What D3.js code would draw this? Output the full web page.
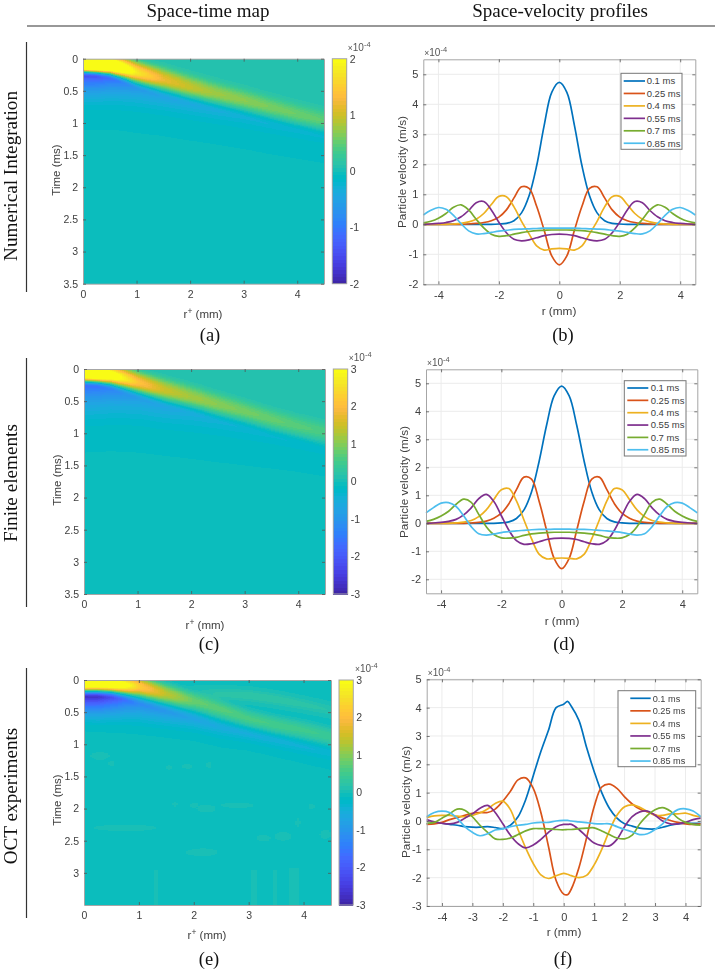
<!DOCTYPE html>
<html><head><meta charset="utf-8">
<script src="https://cdnjs.cloudflare.com/ajax/libs/d3/7.8.5/d3.min.js"></script>
<style>
html,body{margin:0;padding:0;background:#fff}
svg{display:block;filter:blur(0.45px)}
text{font-family:"Liberation Sans",Arial,sans-serif;fill:#404040}
.serif{font-family:"Liberation Serif","Times New Roman",serif;fill:#111}
</style></head><body><svg id="fig" width="715" height="974"></svg>
<script>
// ---------- line-profile data (units of 1e-4 m/s) ----------
const curveTimes = ["0.1 ms","0.25 ms","0.4 ms","0.55 ms","0.7 ms","0.85 ms"];
const curveColors = ["#0072BD","#D95319","#EDB120","#7E2F8E","#77AC30","#4DBEEE"];
const rHalf = [0,.25,.5,.75,1,1.25,1.5,1.75,2,2.25,2.5,2.75,3,3.25,3.5,3.75,4,4.25,4.5];

const b01  = [4.73,4.4,3.3,1.95,.95,.38,.12,.03,.01,0,0,0,0,0,0,0,0,0,0];
const b025 = [-1.35,-1.05,-.2,.6,1.2,1.25,.88,.48,.24,.12,.06,.03,.01,0,0,0,0,0,0];
const b04  = [-.8,-.82,-.86,-.72,-.32,.1,.58,.92,.93,.66,.36,.17,.08,.03,.01,0,0,0,0];
const b055 = [-.33,-.34,-.38,-.45,-.52,-.55,-.5,-.28,.07,.48,.76,.72,.46,.25,.12,.06,.03,.01,0];
const b07  = [-.19,-.19,-.2,-.21,-.24,-.28,-.33,-.38,-.4,-.33,-.12,.17,.48,.65,.57,.36,.2,.1,.05];
const b085 = [-.13,-.13,-.13,-.14,-.15,-.16,-.17,-.2,-.23,-.27,-.31,-.32,-.22,.02,.3,.5,.56,.47,.31];

const d01  = [4.9,4.55,3.5,2.2,1.12,.48,.17,.05,.015,0,0,0,0,0,0,0,0,0,0];
const d025 = [-1.62,-1.25,-.25,.8,1.58,1.65,1.2,.7,.36,.18,.08,.03,.01,0,0,0,0,0,0];
const d04  = [-1.24,-1.25,-1.27,-1.1,-.55,.12,.8,1.24,1.2,.85,.48,.24,.1,.04,.015,0,0,0,0];
const d055 = [-.53,-.54,-.58,-.66,-.73,-.75,-.62,-.25,.27,.78,1.03,.88,.55,.3,.14,.07,.03,.01,0];
const d07  = [-.32,-.32,-.33,-.35,-.38,-.43,-.5,-.53,-.52,-.4,-.12,.32,.75,.86,.68,.43,.26,.14,.07];
const d085 = [-.21,-.21,-.22,-.22,-.23,-.25,-.27,-.3,-.33,-.38,-.42,-.37,-.12,.27,.6,.74,.72,.56,.37];

const rFull = [-4.5,-4.25,-4,-3.75,-3.5,-3.25,-3,-2.75,-2.5,-2.25,-2,-1.75,-1.5,-1.25,-1,-.75,-.5,-.25,0,.125,.25,.5,.75,1,1.25,1.5,1.75,2,2.25,2.5,2.75,3,3.25,3.5,3.75,4,4.25,4.5];
const f01  = [-.1,-.08,-.08,-.12,-.15,-.2,-.22,-.22,-.2,-.23,-.27,-.15,.15,.75,1.6,2.45,3.2,4,4.12,4.22,4.05,3.55,2.6,1.75,1,.45,.1,-.1,-.18,-.25,-.28,-.28,-.22,-.15,-.1,-.08,-.08,-.08];
const f025 = [-.12,-.1,-.05,.05,.12,.2,.27,.3,.3,.42,.7,1.05,1.45,1.52,1.15,.3,-.9,-2.1,-2.58,-2.6,-2.4,-1.65,-.6,.5,1.2,1.3,1.15,.85,.6,.42,.32,.22,.1,.02,-.05,-.1,-.12,-.1];
const f04  = [.12,.18,.2,.2,.17,.15,.2,.28,.42,.62,.7,.4,-.3,-.95,-1.5,-1.9,-2.03,-1.93,-1.85,-1.88,-1.93,-2,-1.92,-1.55,-1,-.35,.2,.5,.57,.48,.33,.2,.2,.25,.25,.28,.2,.15];
const f055 = [.05,-.03,-.08,-.1,-.05,.1,.25,.45,.55,.3,-.1,-.5,-.8,-.95,-.85,-.65,-.4,-.2,-.12,-.12,-.12,-.3,-.55,-.78,-.87,-.88,-.65,-.2,.15,.32,.35,.2,0,-.1,-.1,-.05,.05,.1];
const f07  = [-.08,-.05,.1,.25,.42,.38,.15,-.15,-.4,-.63,-.65,-.6,-.48,-.35,-.27,-.27,-.28,-.3,-.31,-.3,-.3,-.27,-.25,-.24,-.35,-.48,-.6,-.63,-.5,-.1,.2,.4,.47,.35,.1,-.05,-.12,-.15];
const f085 = [.15,.3,.35,.3,.1,-.2,-.4,-.52,-.45,-.32,-.28,-.2,-.15,-.12,-.07,-.05,-.05,0,.02,.02,0,-.03,-.06,-.09,-.1,-.1,-.2,-.3,-.38,-.48,-.45,-.3,-.1,.2,.4,.43,.35,.15];

// ---------- space-time map features read per radial column ----------
const mapR = [0,.25,.5,.75,1,1.5,2,2.5,3,3.5,4,4.5];
const aPeakT   = [.06,.08,.1,.15,.21,.32,.44,.54,.64,.75,.86,.96];
const aPeakV   = [4.9,4.5,3.4,2.5,1.8,1.2,.96,.78,.7,.62,.56,.5];
const aLead    = [.25,.25,.23,.26,.26,.28,.28,.27,.26,.25,.25,.25];
const aTroughT = [.27,.28,.31,.38,.47,.6,.71,.81,.91,1.02,1.12,1.22];
const aTroughV = [-1.4,-1.35,-1.1,-.85,-.62,-.48,-.4,-.34,-.28,-.25,-.22,-.2];
const aTailT   = [1.1,1.1,1.1,1.12,1.15,1.2,1.27,1.33,1.4,1.48,1.55,1.62];

const cPeakT   = [.06,.08,.1,.15,.21,.33,.44,.55,.66,.78,.89,.98];
const cPeakV   = [5,4.7,3.7,2.8,2.15,1.5,1.2,1.03,.9,.8,.7,.62];
const cLead    = [.25,.25,.23,.26,.26,.28,.28,.27,.26,.25,.25,.25];
const cTroughT = [.27,.28,.32,.39,.46,.6,.7,.82,.93,1.05,1.16,1.28];
const cTroughV = [-1.62,-1.55,-1.3,-1.05,-.85,-.68,-.53,-.42,-.36,-.3,-.27,-.24];
const cTailT   = [1.3,1.29,1.28,1.29,1.3,1.35,1.4,1.45,1.5,1.55,1.6,1.67];

const ePeakT   = [.05,.05,.06,.08,.1,.22,.33,.45,.6,.7,.78,.88];
const ePeakV   = [4.3,4.2,3.9,3.2,2.3,1.4,.8,.7,.6,.55,.5,.45];
const eLead    = [.2,.2,.2,.22,.24,.24,.2,.2,.2,.2,.2,.2];
const eTroughT = [.27,.27,.28,.32,.38,.5,.62,.75,.85,.95,1.05,1.15];
const eTroughV = [-2.7,-2.65,-2.2,-1.6,-1.2,-.95,-.7,-.55,-.5,-.45,-.4,-.35];
const eTailT   = [.8,.81,.82,.83,.85,.9,.95,1.05,1.1,1.2,1.3,1.4];
const eFaintT  = [.1,.1,.1,.11,.12,.16,.2,.22,.24,.3,.38,.47];
const eFaintV  = [0,0,0,0,0,0,.1,.25,.3,.3,.25,.2];
// low-level speckle patches in the OCT map: [r, t, half-width r, half-height t]
const ePatches = [[.29,1.18,.17,.06],[.5,1.3,.06,.04],[1.54,1.36,.05,.04],[1.87,1.34,.09,.04],[2.28,1.32,.06,.05],
 [.75,2.3,.57,.05],[2.23,2,.18,.06],[2,1.95,.08,.04],[2.8,1.95,.3,.04],[1.65,1.93,.04,.04],[3.27,2.46,.13,.05],[3.63,2.43,.15,.07],
 [4.4,2.4,.1,.07],[2.15,2.68,.3,.06],[4.15,1.97,.06,.04],[3.9,2.22,.04,.07]];
const eStripes = [[1.31,2.95,.03],[3.11,2.95,.05],[3.49,2.95,.04],[3.83,2.92,.08]];

const parula64 = [[.2422,.1504,.6603],[.2504,.1650,.7076],[.2578,.1818,.7511],[.2647,.1978,.7952],[.2706,.2147,.8364],[.2751,.2342,.8710],[.2783,.2559,.8991],[.2803,.2782,.9221],
[.2813,.3006,.9414],[.2810,.3228,.9579],[.2795,.3447,.9717],[.2760,.3667,.9829],[.2699,.3892,.9906],[.2602,.4123,.9952],[.2440,.4358,.9988],[.2206,.4603,.9973],
[.1963,.4847,.9892],[.1834,.5074,.9798],[.1786,.5289,.9682],[.1764,.5499,.9520],[.1687,.5703,.9359],[.1540,.5902,.9218],[.1460,.6091,.9079],[.1380,.6276,.8973],
[.1248,.6459,.8883],[.1113,.6635,.8763],[.0952,.6798,.8598],[.0689,.6948,.8394],[.0297,.7082,.8163],[.0036,.7203,.7917],[.0067,.7312,.7660],[.0433,.7411,.7394],
[.0964,.7500,.7120],[.1408,.7584,.6842],[.1717,.7670,.6554],[.1938,.7758,.6251],[.2161,.7843,.5923],[.2470,.7918,.5567],[.2906,.7973,.5188],[.3406,.8008,.4789],
[.3909,.8029,.4354],[.4456,.8024,.3909],[.5044,.7993,.3480],[.5616,.7942,.3045],[.6174,.7876,.2612],[.6720,.7793,.2227],[.7242,.7698,.1910],[.7738,.7598,.1646],
[.8203,.7498,.1535],[.8634,.7406,.1596],[.9035,.7330,.1774],[.9393,.7288,.2100],[.9728,.7298,.2394],[.9956,.7434,.2371],[.9970,.7659,.2199],[.9952,.7893,.2028],
[.9892,.8136,.1885],[.9786,.8386,.1766],[.9676,.8639,.1643],[.9610,.8890,.1537],[.9597,.9135,.1423],[.9628,.9373,.1265],[.9691,.9606,.1064],[.9769,.9839,.0805]];

// ---------- layout ----------
const svg = d3.select("#fig");
const colorOf = k => d3.rgb(...parula64[k].map(v=>v*255)).formatHex();
const AX="#a6a6a6", TK="#555";

function ln(x1,y1,x2,y2,c,w){svg.append("line").attr("x1",x1).attr("y1",y1).attr("x2",x2).attr("y2",y2).attr("stroke",c||"#333").attr("stroke-width",w||1);}
function serif(s,x,y,size,rot){const t=svg.append("text").attr("class","serif").attr("font-size",size).attr("text-anchor","middle").text(s);
  if(rot) t.attr("transform",`translate(${x},${y}) rotate(-90)`); else t.attr("x",x).attr("y",y);}
function sans(s,x,y,size,rot,anchor){const t=svg.append("text").attr("font-size",size).attr("text-anchor",anchor||"middle").text(s);
  if(rot) t.attr("transform",`translate(${x},${y}) rotate(-90)`); else t.attr("x",x).attr("y",y); return t;}
function expo(x,y){const t=svg.append("text").attr("x",x).attr("y",y).attr("font-size",10).style("fill","#555");
  t.append("tspan").attr("font-size",8.5).text("\u00d7");t.append("tspan").text("10");t.append("tspan").attr("dy",-4).attr("font-size",7.5).text("-4");}

function axes(g,x,y,xt,yt,w,h,fs){
  const fmt=d=>String(d);
  const ax=(gen,tr,noText)=>{const a=g.append("g").attr("transform",tr).call(gen);a.select(".domain").attr("stroke",AX);
    a.selectAll(".tick line").attr("stroke",TK).attr("stroke-width",.8);a.selectAll("text").attr("font-size",fs).attr("fill","#404040").style("font-family",'"Liberation Sans",Arial,sans-serif');
    if(noText)a.selectAll("text").remove();return a;};
  ax(d3.axisBottom(x).tickValues(xt).tickSizeInner(-3).tickSizeOuter(0).tickPadding(7).tickFormat(fmt),`translate(0,${h})`);
  ax(d3.axisTop(x).tickValues(xt).tickSizeInner(-3).tickSizeOuter(0),`translate(0,0)`,true);
  ax(d3.axisLeft(y).tickValues(yt).tickSizeInner(-3).tickSizeOuter(0).tickPadding(5).tickFormat(fmt),`translate(0,0)`);
  ax(d3.axisRight(y).tickValues(yt).tickSizeInner(-3).tickSizeOuter(0),`translate(${w},0)`,true);
}

function heat(cfg){
  const w=cfg.x1-cfg.x0,h=cfg.y1-cfg.y0,g=svg.append("g").attr("transform",`translate(${cfg.x0},${cfg.y0})`);
  const x=d3.scaleLinear([0,4.5],[0,w]),y=d3.scaleLinear([0,3.5],[0,h]);
  const col=k=>d3.scaleLinear(mapR,k);
  const P={pt:col(cfg.peakT),pv:col(cfg.peakV),le:col(cfg.lead),tt:col(cfg.troughT),tv:col(cfg.troughV),ta:col(cfg.tailT),
    ft:cfg.faintT?col(cfg.faintT):null,fv:cfg.faintV?col(cfg.faintV):null};
  const lv=2*cfg.max/64, ease=d3.easeSinInOut;
  const level=d3.scaleQuantize().domain([-cfg.max,cfg.max]).range(d3.range(64));
  const val=(r,t)=>{
    const tp=P.pt(r),tf=tp-P.le(r),tt=P.tt(r),ta=P.ta(r);let v;
    if(t<tf)v=cfg.ahead;
    else if(t<tp)v=cfg.ahead+(P.pv(r)-cfg.ahead)*ease((t-tf)/(tp-tf));
    else if(t<tt)v=P.pv(r)+(P.tv(r)-P.pv(r))*ease((t-tp)/(tt-tp));
    else if(t<ta)v=-lv+(P.tv(r)+lv)*Math.pow(1-(t-tt)/(ta-tt),cfg.tailPow);
    else v=-lv*.25;
    if(P.ft){const u=(t-P.ft(r))/.09;v+=P.fv(r)*Math.exp(-u*u);}
    if(cfg.patches)for(const p of cfg.patches){const a=(r-p[0])/p[2],b=(t-p[1])/p[3];if(a*a+b*b<1)v+=lv*1.2;}
    if(cfg.stripes)for(const s of cfg.stripes){if(t>s[1]&&Math.abs(r-s[0])<s[2])v+=lv*1.2;}
    return v;
  };
  const nx=Math.round(w/2), ny=Math.round(h), dr=4.5/nx, dt=3.5/ny, cells=[];
  d3.range(nx).forEach(i=>{
    const r=i*dr;
    let start=0,cur=level(val(r+dr/2,dt/2));
    for(let j=1;j<=ny;j++){
      const k=j===ny?-1:level(val(r+dr/2,(j+.5)*dt));
      if(k!==cur){cells.push({r,i,t0:start*dt,t1:j*dt,k:cur});start=j;cur=k;}
    }
  });
  g.append("g").attr("shape-rendering","crispEdges").selectAll("rect").data(cells).join("rect")
    .attr("x",d=>x(d.r)).attr("y",d=>y(d.t0)).attr("width",d=>Math.min(x(dr)+.6,w-x(d.r))).attr("height",d=>Math.min(y(d.t1)-y(d.t0)+.6,h-y(d.t0))).attr("fill",d=>colorOf(d.k));
  axes(g,x,y,[0,1,2,3,4],cfg.yticks,w,h,10.5);
  // colour bar
  const cb=svg.append("g").attr("transform",`translate(${cfg.cb0},${cfg.y0})`);
  const cbw=cfg.cb1-cfg.cb0, cy=d3.scaleLinear([-cfg.max,cfg.max],[h,0]);
  cb.append("g").attr("shape-rendering","crispEdges").selectAll("rect").data(d3.range(64)).join("rect")
    .attr("x",0).attr("width",cbw).attr("y",k=>cy(-cfg.max+(k+1)*lv)).attr("height",h/64+.6).attr("fill",colorOf);
  cb.append("rect").attr("width",cbw).attr("height",h).attr("fill","none").attr("stroke",AX);
  const ca=cb.append("g").attr("transform",`translate(${cbw},0)`).call(d3.axisRight(cy).tickValues(d3.range(-cfg.max,cfg.max+1)).tickSize(0).tickPadding(3).tickFormat(String));
  ca.select(".domain").remove();
  ca.selectAll("text").attr("font-size",10.5).attr("fill","#404040").style("font-family",'"Liberation Sans",Arial,sans-serif');
  expo(cfg.cb0+cfg.expoDx,cfg.y0-8);
  // labels
  const xl=svg.append("text").attr("x",cfg.xlab[0]).attr("y",cfg.xlab[1]).attr("font-size",11.5).attr("text-anchor","middle");
  xl.append("tspan").text("r");xl.append("tspan").attr("dy",-4).attr("font-size",8.5).text("+");xl.append("tspan").attr("dy",4).text(" (mm)");
  sans("Time (ms)",cfg.ylab[0],cfg.ylab[1],11.5,true);
}

function lines(cfg){
  const w=cfg.x1-cfg.x0,h=cfg.y1-cfg.y0,g=svg.append("g").attr("transform",`translate(${cfg.x0},${cfg.y0})`);
  const x=d3.scaleLinear([-4.5,4.5],[0,w]),y=d3.scaleLinear(cfg.yd,[h,0]);
  g.append("g").selectAll("line").data(cfg.xt).join("line").attr("x1",x).attr("x2",x).attr("y1",0).attr("y2",h).attr("stroke","#ececec");
  g.append("g").selectAll("line").data(cfg.yt).join("line").attr("y1",y).attr("y2",y).attr("x1",0).attr("x2",w).attr("stroke","#ececec");
  const gen=d3.line().x(d=>x(d[0])).y(d=>y(d[1])).curve(d3.curveCatmullRom.alpha(.5));
  cfg.series.forEach((s,i)=>{
    const pts=cfg.mirror?rHalf.slice(1).reverse().map((r,j)=>[-r,s[rHalf.length-1-j]]).concat(rHalf.map((r,j)=>[r,s[j]])):rFull.map((r,j)=>[r,s[j]]);
    g.append("path").attr("d",gen(pts)).attr("fill","none").attr("stroke",curveColors[i]).attr("stroke-width",1.7);
  });
  axes(g,x,y,cfg.xt,cfg.yt,w,h,11);
  expo(cfg.x0+1,cfg.y0-3);
  sans("r (mm)",cfg.xlab[0],cfg.xlab[1],11.8);
  sans("Particle velocity (m/s)",cfg.ylab[0],cfg.ylab[1],11.8,true);
  const L=cfg.leg, lg=svg.append("g");
  lg.append("rect").attr("x",L.x0).attr("y",L.y0).attr("width",L.x1-L.x0).attr("height",L.y1-L.y0).attr("fill","#fff").attr("stroke","#777");
  curveTimes.forEach((t,i)=>{
    const yy=L.y0+L.first+i*L.step;
    lg.append("line").attr("x1",L.l0).attr("x2",L.l1).attr("y1",yy).attr("y2",yy).attr("stroke",curveColors[i]).attr("stroke-width",1.7);
    lg.append("text").attr("x",L.tx).attr("y",yy+3.4).attr("font-size",L.fs).text(t);
  });
}

// ---------- frame & headings ----------
serif("Space-time map",208,17,19);
serif("Space-velocity profiles",560,17,19);
ln(27,26,715,26,"#333",1.2);
[[42,292],[358,607],[668,918]].forEach(s=>ln(26.5,s[0],26.5,s[1],"#333",1.2));
serif("Numerical Integration",17,176,19.2,true);
serif("Finite elements",17,483,19.2,true);
serif("OCT experiments",17,796,19.2,true);

const yt35=[0,.5,1,1.5,2,2.5,3,3.5];
heat({x0:83,x1:324,y0:58.7,y1:283.7,cb0:332.3,cb1:346.7,max:2,ahead:.12,tailPow:3,peakT:aPeakT,peakV:aPeakV,lead:aLead,troughT:aTroughT,troughV:aTroughV,tailT:aTailT,yticks:yt35,xlab:[203,318],ylab:[60,170],expoDx:15.5});
heat({x0:84,x1:325,y0:369,y1:594,cb0:333.3,cb1:347.7,max:3,ahead:.14,tailPow:3,peakT:cPeakT,peakV:cPeakV,lead:cLead,troughT:cTroughT,troughV:cTroughV,tailT:cTailT,yticks:yt35,xlab:[205,629],ylab:[61,480],expoDx:15.5});
heat({x0:84,x1:331,y0:680,y1:905,cb0:339,cb1:353.3,max:3,ahead:-.02,tailPow:2,peakT:ePeakT,peakV:ePeakV,lead:eLead,troughT:eTroughT,troughV:eTroughV,tailT:eTailT,faintT:eFaintT,faintV:eFaintV,patches:ePatches,stripes:eStripes,yticks:[0,.5,1,1.5,2,2.5,3],xlab:[207,939],ylab:[61,800],expoDx:16});

lines({x0:423.3,x1:695.3,y0:59.3,y1:284.3,yd:[-2,5.5],xt:[-4,-2,0,2,4],yt:[-2,-1,0,1,2,3,4,5],mirror:true,series:[b01,b025,b04,b055,b07,b085],xlab:[559,315],ylab:[406,172],
  leg:{x0:621,x1:682,y0:73.3,y1:149.3,first:7.7,step:12.45,l0:623.7,l1:645,tx:646.7,fs:9.5}});
lines({x0:426,x1:697.3,y0:369.3,y1:593.3,yd:[-2.5,5.5],xt:[-4,-2,0,2,4],yt:[-2,-1,0,1,2,3,4,5],mirror:true,series:[d01,d025,d04,d055,d07,d085],xlab:[562,625],ylab:[408,482],
  leg:{x0:624.3,x1:686,y0:380.7,y1:456,first:7.3,step:12.35,l0:627.3,l1:648.3,tx:650.7,fs:9.5}});
lines({x0:426.7,x1:700.7,y0:679.3,y1:906,yd:[-3,5],xt:[-4,-3,-2,-1,0,1,2,3,4],yt:[-3,-2,-1,0,1,2,3,4,5],mirror:false,series:[f01,f025,f04,f055,f07,f085],xlab:[564,936],ylab:[410,802],
  leg:{x0:618,x1:695.7,y0:690.7,y1:766.7,first:7.6,step:12.55,l0:630.3,l1:650.7,tx:652.7,fs:9.2}});

[["(a)",210,341],["(b)",563,341],["(c)",209,650],["(d)",564,650],["(e)",209,965],["(f)",563,965]].forEach(p=>serif(p[0],p[1],p[2],18.5));
</script></body></html>
